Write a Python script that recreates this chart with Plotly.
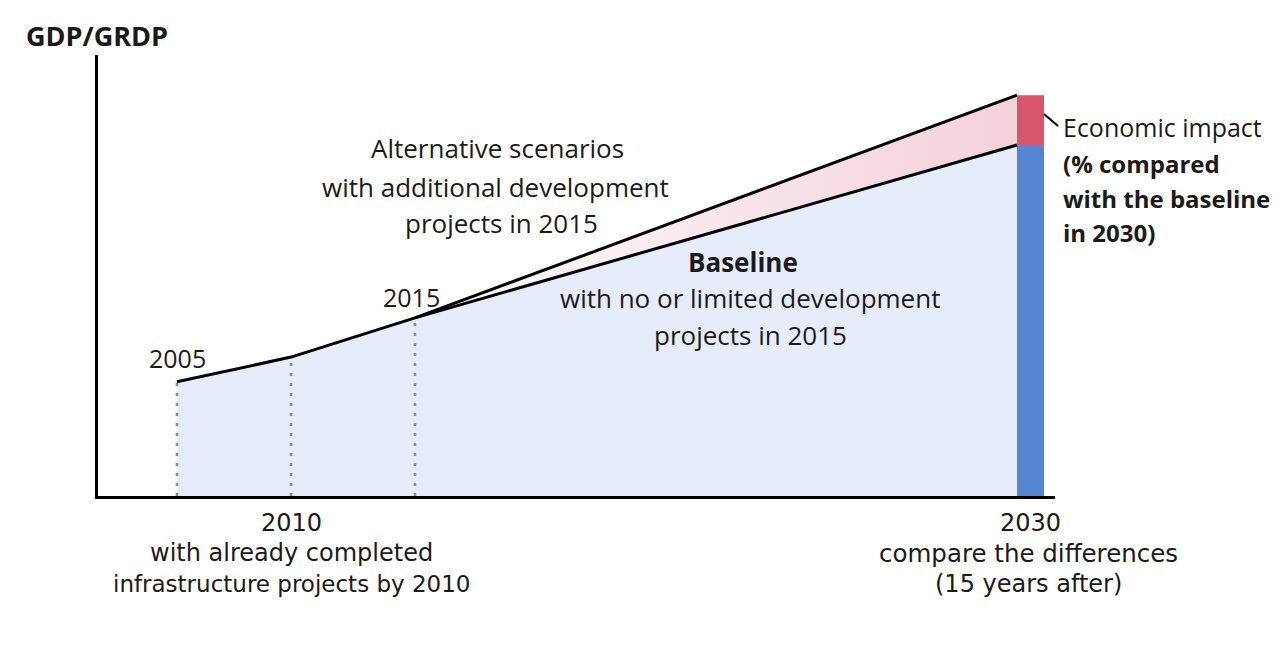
import plotly.graph_objects as go

# ---- data (schematic) ----
years = ["2005", "2010", "2015", "2030"]
timeline_pos = [8.25, 20.17, 33.12, 96.03]        # schematic position of each year on the time axis
baseline_gdp = [25.9, 31.5, 40.4, 79.6]           # baseline GDP/GRDP index
alt_years = ["2015", "2030"]
alternative_gdp = [40.4, 90.9]                    # alternative scenario GDP/GRDP index
dotted_years = ["2005", "2010", "2015"]

# ---- layout helpers (reference pixel -> paper) ----
OFF = 8                      # page body margin
W, H = 1284 - 2 * OFF, 646 - 2 * OFF
L, R, T, B = 90, 221, 47, 142
PW, PH = W - L - R, H - T - B


def px(x):
    return (x - OFF - L) / PW


def py(y):
    return (H - B - (y - OFF)) / PH


pos = dict(zip(years, timeline_pos))
base = dict(zip(years, baseline_gdp))
alt_x = [pos[y] for y in alt_years]
base_at_alt = [base[y] for y in alt_years]

fig = go.Figure()

# light blue area under baseline
fig.add_trace(go.Scatter(x=timeline_pos, y=baseline_gdp, mode="lines", line=dict(width=0),
                         fill="tozeroy", fillcolor="#e6edf8", hoverinfo="skip", showlegend=False))

# pink gradient area between baseline and alternative
fig.add_trace(go.Scatter(x=alt_x, y=base_at_alt, mode="lines", line=dict(width=0),
                         hoverinfo="skip", showlegend=False))
fig.add_trace(go.Scatter(x=alt_x, y=alternative_gdp, mode="lines", line=dict(width=0),
                         fill="tonexty",
                         fillgradient=dict(type="horizontal",
                                           colorscale=[[0, "rgba(248,232,238,0.2)"],
                                                       [0.6, "rgba(246,222,230,0.9)"],
                                                       [1, "rgba(244,208,218,1)"]]),
                         hoverinfo="skip", showlegend=False))

# dotted verticals
for yr in dotted_years:
    fig.add_trace(go.Scatter(x=[pos[yr], pos[yr]], y=[0, base[yr]], mode="lines",
                             line=dict(color="#868b96", width=2.6, dash="3px,7px"),
                             hoverinfo="skip", showlegend=False))

# 2030 bar: baseline (blue) + economic impact (red)
bar_w = 2.82
bar_x = pos["2030"] + bar_w / 2
fig.add_trace(go.Bar(x=[bar_x], y=[base["2030"]], width=bar_w, base=[0],
                     marker=dict(color="#5585d3", line=dict(width=0)), showlegend=False, hoverinfo="skip"))
fig.add_trace(go.Bar(x=[bar_x], y=[alternative_gdp[-1] - base["2030"]], base=[base["2030"]], width=bar_w,
                     marker=dict(color="#d8566c", line=dict(width=0)), showlegend=False, hoverinfo="skip"))

# lines
fig.add_trace(go.Scatter(x=timeline_pos, y=baseline_gdp, mode="lines",
                         line=dict(color="black", width=3), hoverinfo="skip", showlegend=False))
fig.add_trace(go.Scatter(x=alt_x, y=alternative_gdp, mode="lines",
                         line=dict(color="black", width=3), hoverinfo="skip", showlegend=False))

CAL = "Open Sans"
ARI = "DejaVu Sans"
annots = [
    ("<b>GDP/GRDP</b>", 97, 35, CAL, 27, "center"),
    ("2005", 177, 358, CAL, 25, "center"),
    ("2015", 411, 297, CAL, 25, "center"),
    ("Alternative scenarios", 497, 148, CAL, 26, "center"),
    ("with additional development", 495, 187, CAL, 26, "center"),
    ("projects in 2015", 501, 223, CAL, 26, "center"),
    ("<b>Baseline</b>", 743, 262, CAL, 26, "center"),
    ("with no or limited development", 750, 298, CAL, 26, "center"),
    ("projects in 2015", 750, 335, CAL, 26, "center"),
    ("2010", 291, 523, ARI, 24, "center"),
    ("with already completed", 291, 553, ARI, 24, "center"),
    ("infrastructure projects by 2010", 291, 584, ARI, 23, "center"),
    ("2030", 1030, 523, ARI, 24, "center"),
    ("compare the differences", 1028, 553, ARI, 24.5, "center"),
    ("(15 years after)", 1028, 584, ARI, 24, "center"),
    ("Economic impact", 1061, 127, CAL, 25, "left"),
    ("<b>(% compared</b>", 1061, 163, CAL, 24, "left"),
    ("<b>with the baseline</b>", 1061, 198, CAL, 24, "left"),
    ("<b>in 2030)</b>", 1061, 232, CAL, 24, "left"),
]
for txt, x, y, fam, sz, anc in annots:
    fig.add_annotation(x=px(x), y=py(y), xref="paper", yref="paper", text=txt, showarrow=False,
                       xanchor=anc, yanchor="middle", font=dict(family=fam, size=sz, color="#1a1a1a"))

# leader line from bar to label
fig.add_shape(type="line", xref="paper", yref="paper", x0=px(1044), y0=py(114), x1=px(1058), y1=py(126),
              line=dict(color="black", width=2))

fig.update_layout(
    width=W, height=H,
    margin=dict(l=L, r=R, t=T, b=B, pad=0),
    paper_bgcolor="white", plot_bgcolor="white",
    barmode="overlay",
    xaxis=dict(range=[0, 100], showline=True, linewidth=3, linecolor="black", showgrid=False,
               zeroline=False, showticklabels=False, ticks="", fixedrange=True),
    yaxis=dict(range=[0, 100], showline=True, linewidth=3, linecolor="black", showgrid=False,
               zeroline=False, showticklabels=False, ticks="", fixedrange=True),
)

fig.write_html("out.html")
